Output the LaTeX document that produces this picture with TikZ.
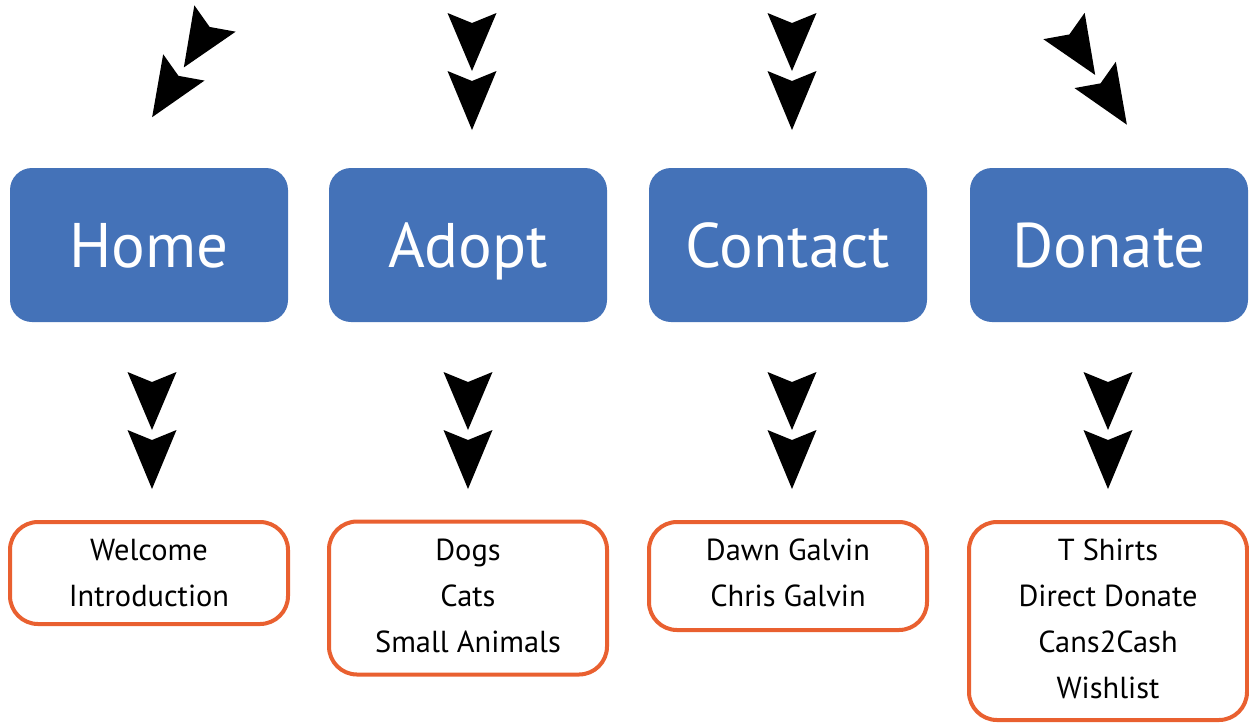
\documentclass[tikz,border=0pt]{standalone}
\usepackage{fontspec}
\setmainfont{PT Sans}
\definecolor{menublue}{RGB}{68,114,184}
\definecolor{suborange}{RGB}{233,96,48}
\tikzset{
    menu/.style={fill=menublue, text=white, rounded corners=11pt, minimum width=139pt, minimum height=77pt, inner sep=0pt, text height=22pt, text depth=0pt, font=\fontsize{31.5}{36}\selectfont},
    sub/.style={draw=suborange, line width=2pt, rounded corners=14pt, minimum width=139pt, inner sep=0pt, align=center, font=\fontsize{15.2}{23}\selectfont},
    dblhead/.pic={\fill (-24.5,0) -- (0,10) -- (24.5,0) -- (0,58) -- cycle (-24.5,58) -- (0,68) -- (24.5,58) -- (0,117) -- cycle;}
}
\begin{document}
\begin{tikzpicture}[x=0.5pt, y=-0.5pt]
    \useasboundingbox (0,0) rectangle (1249,725);

    \coordinate (hometop) at (215,18.5);
    \coordinate (adopttop) at (472,13);
    \coordinate (contacttop) at (792,13);
    \coordinate (donatetop) at (1064,26);

    \node[menu] (home) at (149,245) {Home};
    \node[menu] (adopt) at (468,245) {Adopt};
    \node[menu] (contact) at (788,245) {Contact};
    \node[menu] (donate) at (1109,245) {Donate};

    \node[sub, minimum height=51pt] (homesub) at (149,573) {Welcome\\Introduction};
    \node[sub, minimum height=76.5pt, text depth=2pt] (adoptsub) at (468,598) {Dogs\\Cats\\Small Animals};
    \node[sub, minimum height=54pt, text depth=3pt] (contactsub) at (788,576) {Dawn Galvin\\Chris Galvin};
    \node[sub, minimum height=99pt, text depth=2pt] (donatesub) at (1108,621) {T Shirts\\Direct Donate\\Cans2Cash\\Wishlist};

    \pic[rotate=-32.5] at (hometop) {dblhead};
    \pic at (adopttop) {dblhead};
    \pic at (contacttop) {dblhead};
    \pic[rotate=32.5] at (donatetop) {dblhead};
    \foreach \x in {152,468,792,1108} \pic at (\x,372) {dblhead};
\end{tikzpicture}
\end{document}
